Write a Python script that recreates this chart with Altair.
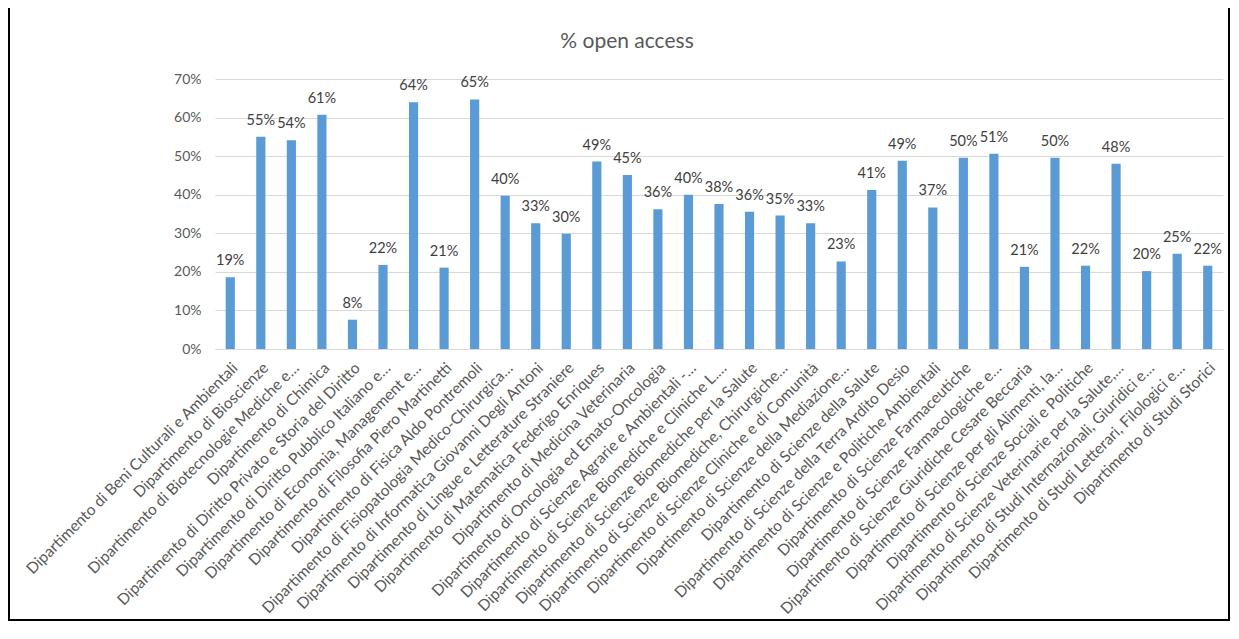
import altair as alt
import pandas as pd

departments = [
    "Dipartimento di Beni Culturali e Ambientali",
    "Dipartimento di Bioscienze",
    "Dipartimento di Biotecnologie Mediche e…",
    "Dipartimento di Chimica",
    "Dipartimento di Diritto Privato e Storia del Diritto",
    "Dipartimento di Diritto Pubblico Italiano e…",
    "Dipartimento di Economia, Management e…",
    "Dipartimento di Filosofia Piero Martinetti",
    "Dipartimento di Fisica Aldo Pontremoli",
    "Dipartimento di Fisiopatologia Medico-Chirurgica…",
    "Dipartimento di Informatica Giovanni Degli Antoni",
    "Dipartimento di Lingue e Letterature Straniere",
    "Dipartimento di Matematica Federigo Enriques",
    "Dipartimento di Medicina Veterinaria",
    "Dipartimento di Oncologia ed Emato-Oncologia",
    "Dipartimento di Scienze Agrarie e Ambientali -…",
    "Dipartimento di Scienze Biomediche e Cliniche L.…",
    "Dipartimento di Scienze Biomediche per la Salute",
    "Dipartimento di Scienze Biomediche, Chirurgiche…",
    "Dipartimento di Scienze Cliniche e di Comunità",
    "Dipartimento di Scienze della Mediazione…",
    "Dipartimento di Scienze della Salute",
    "Dipartimento di Scienze della Terra Ardito Desio",
    "Dipartimento di Scienze e Politiche Ambientali",
    "Dipartimento di Scienze Farmaceutiche",
    "Dipartimento di Scienze Farmacologiche e…",
    "Dipartimento di Scienze Giuridiche Cesare Beccaria",
    "Dipartimento di Scienze per gli Alimenti, la…",
    "Dipartimento di Scienze Sociali e Politiche",
    "Dipartimento di Scienze Veterinarie per la Salute,…",
    "Dipartimento di Studi Internazionali, Giuridici e…",
    "Dipartimento di Studi Letterari, Filologici e…",
    "Dipartimento di Studi Storici",
]

open_access_pct = [
    18.6, 55.0, 54.1, 60.7, 7.6, 21.8, 64.0, 21.1, 64.7, 39.7, 32.6,
    29.9, 48.6, 45.1, 36.2, 40.0, 37.6, 35.6, 34.6, 32.6, 22.7, 41.2,
    48.8, 36.7, 49.6, 50.6, 21.3, 49.6, 21.6, 48.0, 20.2, 24.7, 21.6,
]

y_ticks = [0, 0.1, 0.2, 0.3, 0.4, 0.5, 0.6, 0.7]

df = pd.DataFrame({"dept": departments, "pct": open_access_pct})
df["share"] = df["pct"] / 100

x_enc = alt.X(
    "dept:N",
    sort=departments,
    title=None,
    scale=alt.Scale(paddingInner=0.7, paddingOuter=0.35),
    axis=alt.Axis(
        labelAngle=-45,
        labelLimit=400,
        labelFont="Lato",
        labelFontSize=15.5,
        labelColor="#595959",
        domainColor="#D9D9D9",
        ticks=False,
        labelPadding=11,
    ),
)
y_enc = alt.Y(
    "share:Q",
    title=None,
    scale=alt.Scale(domain=[0, 0.7], nice=False),
    axis=alt.Axis(
        format=".0%",
        values=y_ticks,
        grid=True,
        gridColor="#D9D9D9",
        domain=False,
        ticks=False,
        labelPadding=14,
        labelFont="Lato",
        labelFontSize=14,
        labelColor="#595959",
    ),
)

bars = alt.Chart(df).mark_bar(color="#5B9BD5").encode(x=x_enc, y=y_enc)

labels = alt.Chart(df).mark_text(
    baseline="alphabetic", dy=-12, font="Lato", fontSize=14.5, color="#404040"
).encode(x=x_enc, y=y_enc, text=alt.Text("share:Q", format=".0%"))

frame = alt.Chart(pd.DataFrame({"a": [0]})).mark_rect(
    fillOpacity=0, stroke="black", strokeWidth=2
).encode(
    x=alt.value(-206), x2=alt.value(1014), y=alt.value(-72), y2=alt.value(541)
)

chart = alt.layer(frame, bars, labels).properties(
    width=1008,
    height=270,
    title=alt.TitleParams(
        "% open access",
        fontSize=21,
        font="Lato",
        color="#595959",
        fontWeight="normal",
        dx=-92,
        offset=-46,
    ),
    autosize=alt.AutoSizeParams(type="none"),
    padding={"left": 207, "top": 71, "right": 8, "bottom": 273},
).configure_view(stroke=None)

chart.save("out.html", embed_options={"renderer": "svg", "actions": False})
